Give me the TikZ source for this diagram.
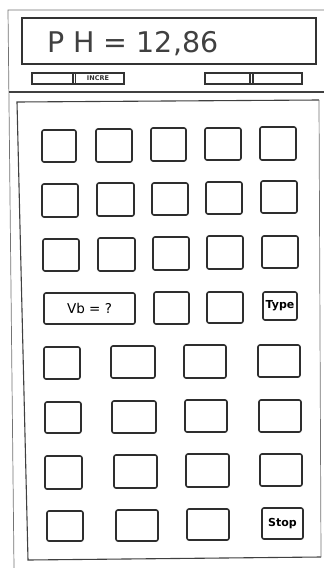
\documentclass[tikz,border=0pt]{standalone}
\usepackage{fontspec}
\setmainfont{DejaVu Sans}
\begin{document}
\begin{tikzpicture}[x=1pt,y=-1pt,
  frameline/.style={draw=black!75, line width=1.1pt},
  thinline/.style={draw=black!55, line width=0.7pt},
  keybox/.style={draw=black!82, line width=1.6pt, rounded corners=2pt, inner sep=0pt, outer sep=0pt, font=\fontsize{11}{11}\selectfont\bfseries},
  barbox/.style={draw=black!80, line width=1.1pt, inner sep=0pt, outer sep=0pt}
]
\useasboundingbox (0,0) rectangle (324,568);
\fill[white] (0,0) rectangle (324,568);

\newcommand\kbox[6]{%
  \node[keybox, minimum width={(#4-#2)*1pt}, minimum height={(#5-#3)*1pt}]
    (#1) at ({(#2+#4)/2},{(#3+#5)/2}) {#6};}

% outer case
\coordinate (otl) at (8,10);
\coordinate (otr) at (324,10);
\coordinate (obl) at (14,568);
\draw[thinline] (otr) -- (otl) -- (obl);
\coordinate (sepl) at (8.6,92);
\coordinate (sepr) at (324,92);
\draw[frameline] (sepl) -- (sepr);

% display
\node[draw=black!80, line width=1.1pt, inner sep=0pt, minimum width=294pt, minimum height=46pt] (display) at (169,41) {};
\node[anchor=base west, inner sep=0pt, font=\fontsize{28.5}{28.5}\selectfont, text=black!75] (ph) at (47,52) {P H = 12,86};

% slider bars
\node[barbox, minimum width=92pt, minimum height=11pt] (barl) at (78,78.5) {};
\coordinate (bl1) at (73,73); \coordinate (bl2) at (73,84);
\coordinate (bl3) at (75.5,73); \coordinate (bl4) at (75.5,84);
\draw[barbox] (bl1) -- (bl2) (bl3) -- (bl4);
\node[inner sep=0pt, font=\fontsize{6.5}{6.5}\selectfont\bfseries, text=black!80] (incre) at (98,78.5) {INCRE};

\node[barbox, minimum width=97pt, minimum height=11pt] (barr) at (253.5,78.5) {};
\coordinate (br1) at (250,73); \coordinate (br2) at (250,84);
\coordinate (br3) at (253,73); \coordinate (br4) at (253,84);
\draw[barbox] (br1) -- (br2) (br3) -- (br4);

% keypad frame
\coordinate (ktl) at (17,102);
\coordinate (ktr) at (319,100);
\coordinate (kbr) at (321,557);
\coordinate (kbl) at (28,560);
\draw[frameline] (ktr) -- (ktl) -- (kbl) -- (kbr);
\draw[thinline] (ktr) -- (kbr);

% row 1
\kbox{k11}{42}{130}{76}{162}{}
\kbox{k12}{96}{129}{132}{162}{}
\kbox{k13}{151}{128}{186}{161}{}
\kbox{k14}{205}{128}{241}{160}{}
\kbox{k15}{260}{127}{296}{160}{}
% row 2
\kbox{k21}{42}{184}{78}{217}{}
\kbox{k22}{97}{183}{134}{216}{}
\kbox{k23}{152}{183}{188}{215}{}
\kbox{k24}{206}{182}{242}{214}{}
\kbox{k25}{261}{181}{297}{213}{}
% row 3
\kbox{k31}{43}{239}{79}{271}{}
\kbox{k32}{98}{238}{135}{271}{}
\kbox{k33}{153}{237}{189}{270}{}
\kbox{k34}{207}{236}{243}{269}{}
\kbox{k35}{262}{236}{298}{268}{}
% row 4
\kbox{k41}{44}{293}{135}{324}{\fontsize{13.5}{13.5}\selectfont\mdseries Vb = ?}
\kbox{k42}{154}{292}{189}{324}{}
\kbox{k43}{207}{292}{243}{323}{}
\kbox{k44}{263}{292}{297}{320}{Type}
% row 5
\kbox{k51}{44}{347}{80}{379}{}
\kbox{k52}{111}{346}{155}{378}{}
\kbox{k53}{184}{345}{226}{378}{}
\kbox{k54}{258}{345}{300}{377}{}
% row 6
\kbox{k61}{45}{402}{81}{433}{}
\kbox{k62}{112}{401}{156}{433}{}
\kbox{k63}{185}{400}{227}{432}{}
\kbox{k64}{259}{400}{301}{432}{}
% row 7
\kbox{k71}{45}{456}{82}{489}{}
\kbox{k72}{114}{455}{157}{488}{}
\kbox{k73}{186}{454}{229}{487}{}
\kbox{k74}{260}{454}{302}{486}{}
% row 8
\kbox{k81}{47}{511}{83}{541}{}
\kbox{k82}{116}{510}{158}{541}{}
\kbox{k83}{187}{509}{229}{540}{}
\kbox{k84}{262}{508}{303}{539}{Stop}
\end{tikzpicture}
\end{document}
